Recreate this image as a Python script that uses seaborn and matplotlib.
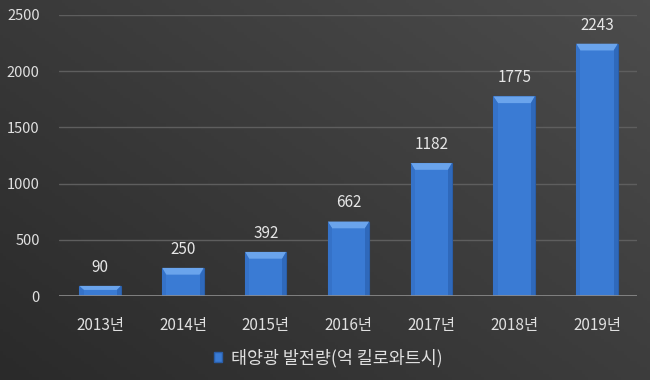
import numpy as np
import pandas as pd
import matplotlib
matplotlib.use("Agg")
import matplotlib.pyplot as plt
import seaborn as sns
from matplotlib.patches import Patch, Polygon

# data
years = ["2013년", "2014년", "2015년", "2016년", "2017년", "2018년", "2019년"]
values = [90, 250, 392, 662, 1182, 1775, 2243]
series_name = "태양광 발전량(억 킬로와트시)"

df = pd.DataFrame({"year": years, "value": values})

sns.set_style("dark")
plt.rcParams['font.family'] = ['Noto Sans CJK KR', 'DejaVu Sans']

fig = plt.figure(figsize=(6.5, 3.8), dpi=100)

# dark diagonal gradient background
bg = fig.add_axes([0, 0, 1, 1], zorder=-10)
gx, gy = np.meshgrid(np.linspace(0, 1, 200), np.linspace(0, 1, 120))
grad = 0.55 * gx + 0.45 * (1 - gy)
bg.imshow(grad, cmap=matplotlib.colors.LinearSegmentedColormap.from_list(
    "bgc", ["#2a2a2a", "#4c4c4c"]), aspect="auto", extent=[0, 1, 0, 1])
bg.axis("off")

ax = fig.add_axes([0.091, 0.221, 0.889, 0.74])
ax.patch.set_alpha(0)

sns.barplot(data=df, x="year", y="value", color="#3a7bd4", width=0.5,
            saturation=1, ax=ax, zorder=3, edgecolor="#2a5ea8", linewidth=0.8)

# bevel look: lighter top face, slightly darker sides
for p in ax.patches[:]:
    x0, w, h = p.get_x(), p.get_width(), p.get_height()
    bev = min(h * 0.4, 60)
    dx = w * 0.1
    ax.add_patch(Polygon([(x0, h), (x0 + w, h), (x0 + w - dx, h - bev), (x0 + dx, h - bev)],
                         closed=True, color="#6aa4ec", zorder=4, linewidth=0))
    ax.add_patch(Polygon([(x0 + w, h), (x0 + w, 0), (x0 + w - dx, 0), (x0 + w - dx, h - bev)],
                         closed=True, color="#2f69bb", zorder=4, linewidth=0))
    ax.add_patch(Polygon([(x0, h), (x0, 0), (x0 + dx, 0), (x0 + dx, h - bev)],
                         closed=True, color="#3572c8", zorder=4, linewidth=0))

for i, v in enumerate(values):
    ax.text(i, v + 90, str(v), ha="center", va="bottom", color="#e6e6e6",
            fontsize=11)

ax.set_ylim(0, 2500)
ax.set_xlim(-0.495, 6.483)
ax.set_yticks(np.arange(0, 2501, 500))
ax.yaxis.grid(True, color="#5e5e5e", linewidth=1, zorder=0)
ax.xaxis.grid(False)
ax.set_xlabel("")
ax.set_ylabel("")
for s in ax.spines.values():
    s.set_visible(False)
ax.axhline(0, color="#8c8c8c", linewidth=1.2, zorder=5)
ax.tick_params(axis="both", colors="#e0e0e0", length=0)
ax.tick_params(axis="x", pad=15, labelsize=11)
ax.tick_params(axis="y", pad=14, labelsize=10.5)

handle = Patch(facecolor="#3a7bd4", edgecolor="#2a5ea8")
leg = fig.legend([handle], [series_name], loc="center", bbox_to_anchor=(0.505, 0.058),
                 frameon=False, fontsize=12.5, handlelength=0.5, handleheight=0.5,
                 handletextpad=0.5)
for t in leg.get_texts():
    t.set_color("#e0e0e0")

fig.savefig("out.png", dpi=100)
